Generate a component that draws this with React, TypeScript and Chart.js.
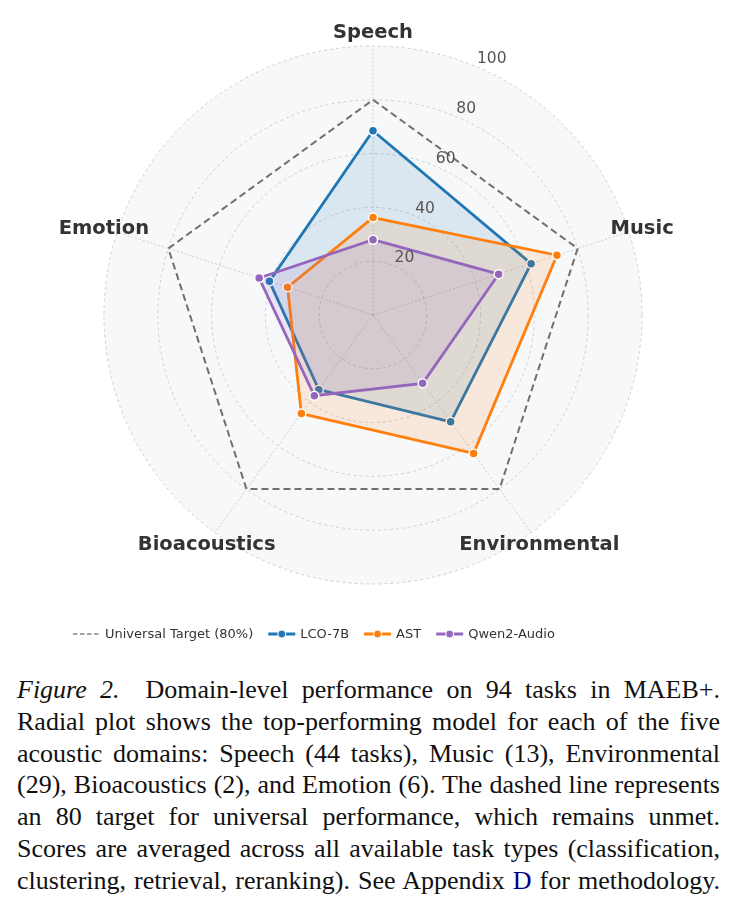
import { useEffect, useLayoutEffect, useRef } from "react";
import { Chart, registerables } from "chart.js";

Chart.register(...registerables);

// Domains around the radar, clockwise from the top
const domains = ["Speech", "Music", "Environmental", "Bioacoustics", "Emotion"];

// Scores per domain (same order as domains)
const targetScores = [80, 80, 80, 80, 80];
const lcoScores = [68.5, 61.8, 49.1, 34.3, 40.5];
const astScores = [36.2, 71.9, 63.6, 45.3, 33.4];
const qwenScores = [28.0, 49.1, 31.4, 37.1, 44.5];

// Radial tick values
const radialTicks = [20, 40, 60, 80, 100];

const seriesNames = ["Universal Target (80%)", "LCO-7B", "AST", "Qwen2-Audio"];
const seriesColors = ["#707070", "#1f77b4", "#ff7f0e", "#9467bd"];

const SANS = "'DejaVu Sans', 'Liberation Sans', sans-serif";

const overlayPlugin = {
  id: "radarOverlay",
  afterDraw(chart: any) {
    const { ctx } = chart;
    const r = chart.scales.r;
    ctx.save();

    // radial tick labels, along a ray 22.5° clockwise from the top
    ctx.font = `15.5px ${SANS}`;
    ctx.fillStyle = "#555555";
    ctx.textAlign = "left";
    ctx.textBaseline = "alphabetic";
    const a = ((-90 + 22.5) * Math.PI) / 180;
    radialTicks.forEach((v) => {
      const d = r.getDistanceFromCenterForValue(v);
      ctx.fillText(String(v), r.xCenter + d * Math.cos(a) + 1, r.yCenter + d * Math.sin(a) - 3);
    });

    // domain labels, centred just outside the outer ring
    ctx.font = `bold 19.5px ${SANS}`;
    ctx.fillStyle = "#333333";
    ctx.textAlign = "center";
    ctx.textBaseline = "middle";
    const outer = r.getDistanceFromCenterForValue(100) + 14;
    domains.forEach((name, i) => {
      const p = r.getPointPosition(i, outer);
      ctx.fillText(name, p.x, p.y + 1);
    });

    // legend row
    ctx.font = `13px ${SANS}`;
    ctx.textAlign = "left";
    ctx.textBaseline = "middle";
    let x = 65;
    const y = 626;
    seriesNames.forEach((name, i) => {
      const color = seriesColors[i];
      ctx.beginPath();
      ctx.moveTo(x, y);
      ctx.lineTo(x + 27, y);
      if (i === 0) {
        ctx.setLineDash([4.5, 2.5]);
        ctx.lineWidth = 1.5;
        ctx.strokeStyle = "#888888";
        ctx.stroke();
        ctx.setLineDash([]);
      } else {
        ctx.lineWidth = 3;
        ctx.strokeStyle = color;
        ctx.stroke();
        ctx.beginPath();
        ctx.arc(x + 13.5, y, 4, 0, Math.PI * 2);
        ctx.fillStyle = color;
        ctx.fill();
        ctx.lineWidth = 1;
        ctx.strokeStyle = "#ffffff";
        ctx.stroke();
      }
      ctx.fillStyle = "#333333";
      ctx.fillText(name, x + 32, y + 0.5);
      x += 32 + ctx.measureText(name).width + 15;
    });

    ctx.restore();
  },
};

function seriesDataset(label: string, data: number[], color: string, fillRgba: string, order: number) {
  return {
    label,
    data,
    order,
    borderColor: color,
    backgroundColor: fillRgba,
    fill: true,
    borderWidth: 2.8,
    pointRadius: 4.5,
    pointBackgroundColor: color,
    pointBorderColor: "#ffffff",
    pointBorderWidth: 1.5,
  };
}

function RadarChart() {
  const canvasRef = useRef<HTMLCanvasElement | null>(null);

  useEffect(() => {
    const canvas = canvasRef.current;
    if (!canvas) return;
    const chart = new Chart(canvas, {
      type: "radar",
      data: {
        labels: domains,
        datasets: [
          {
            label: seriesNames[0],
            data: targetScores,
            order: 4,
            borderColor: seriesColors[0],
            borderDash: [7, 4],
            borderWidth: 2,
            pointRadius: 0,
            fill: false,
            backgroundColor: "rgba(0,0,0,0)",
          },
          seriesDataset(seriesNames[1], lcoScores, seriesColors[1], "rgba(31,119,180,0.13)", 3),
          seriesDataset(seriesNames[2], astScores, seriesColors[2], "rgba(255,127,14,0.13)", 2),
          seriesDataset(seriesNames[3], qwenScores, seriesColors[3], "rgba(148,103,189,0.13)", 1),
        ] as any,
      },
      options: {
        responsive: false,
        animation: false,
        events: [],
        layout: { padding: { left: 96, right: 90, top: 38, bottom: 74 } },
        plugins: {
          legend: { display: false },
          tooltip: { enabled: false },
        },
        scales: {
          r: {
            min: 0,
            max: 100,
            beginAtZero: true,
            backgroundColor: "#f7f8fa",
            ticks: { display: false, stepSize: 20 },
            pointLabels: { display: false },
            grid: { circular: true, color: "#c4c4c4", lineWidth: 0.8 },
            border: { dash: [3, 3] },
            angleLines: { color: "#c4c4c4", lineWidth: 0.8, borderDash: [2, 2] },
          },
        },
      } as any,
      plugins: [overlayPlugin],
    });
    return () => chart.destroy();
  }, []);

  return <canvas ref={canvasRef} width={724} height={650} style={{ display: "block", width: 724, height: 650 }} />;
}

const CAPTION_WIDTH = 703;

// One caption line, spread to the full column width by adjusting word spacing
function JustifiedLine({ children }: { children: React.ReactNode }) {
  const spanRef = useRef<HTMLSpanElement | null>(null);
  useLayoutEffect(() => {
    const el = spanRef.current;
    if (!el) return;
    el.style.wordSpacing = "0px";
    el.style.transform = "none";
    const natural = el.getBoundingClientRect().width;
    const gaps = (el.textContent || "").split(" ").length - 1;
    if (gaps <= 0) return;
    let spacing = (CAPTION_WIDTH - natural) / gaps;
    if (spacing < -2.5) spacing = -2.5;
    el.style.wordSpacing = `${spacing}px`;
    const w = el.getBoundingClientRect().width;
    if (w > CAPTION_WIDTH) {
      el.style.transformOrigin = "left center";
      el.style.transform = `scaleX(${CAPTION_WIDTH / w})`;
    }
  }, []);
  return (
    <div style={{ whiteSpace: "nowrap", lineHeight: "31.8px", height: 31.8 }}>
      <span ref={spanRef} style={{ display: "inline-block" }}>
        {children}
      </span>
    </div>
  );
}

const captionStyle: React.CSSProperties = {
  fontFamily: "'Liberation Serif', 'Times New Roman', serif",
  fontSize: 26,
  color: "#111111",
  marginTop: 16,
  marginLeft: 9,
  width: CAPTION_WIDTH,
};

export default function App() {
  return (
    <div>
      <RadarChart />
      <div style={captionStyle}>
        <JustifiedLine>
          <i>Figure 2.</i>{"\u2003"}Domain-level performance on 94 tasks in MAEB+.
        </JustifiedLine>
        <JustifiedLine>Radial plot shows the top-performing model for each of the five</JustifiedLine>
        <JustifiedLine>acoustic domains: Speech (44 tasks), Music (13), Environmental</JustifiedLine>
        <JustifiedLine>(29), Bioacoustics (2), and Emotion (6). The dashed line represents</JustifiedLine>
        <JustifiedLine>an 80 target for universal performance, which remains unmet.</JustifiedLine>
        <JustifiedLine>Scores are averaged across all available task types (classification,</JustifiedLine>
        <JustifiedLine>
          clustering, retrieval, reranking). See Appendix <span style={{ color: "#00008b" }}>D</span> for methodology.
        </JustifiedLine>
      </div>
    </div>
  );
}
